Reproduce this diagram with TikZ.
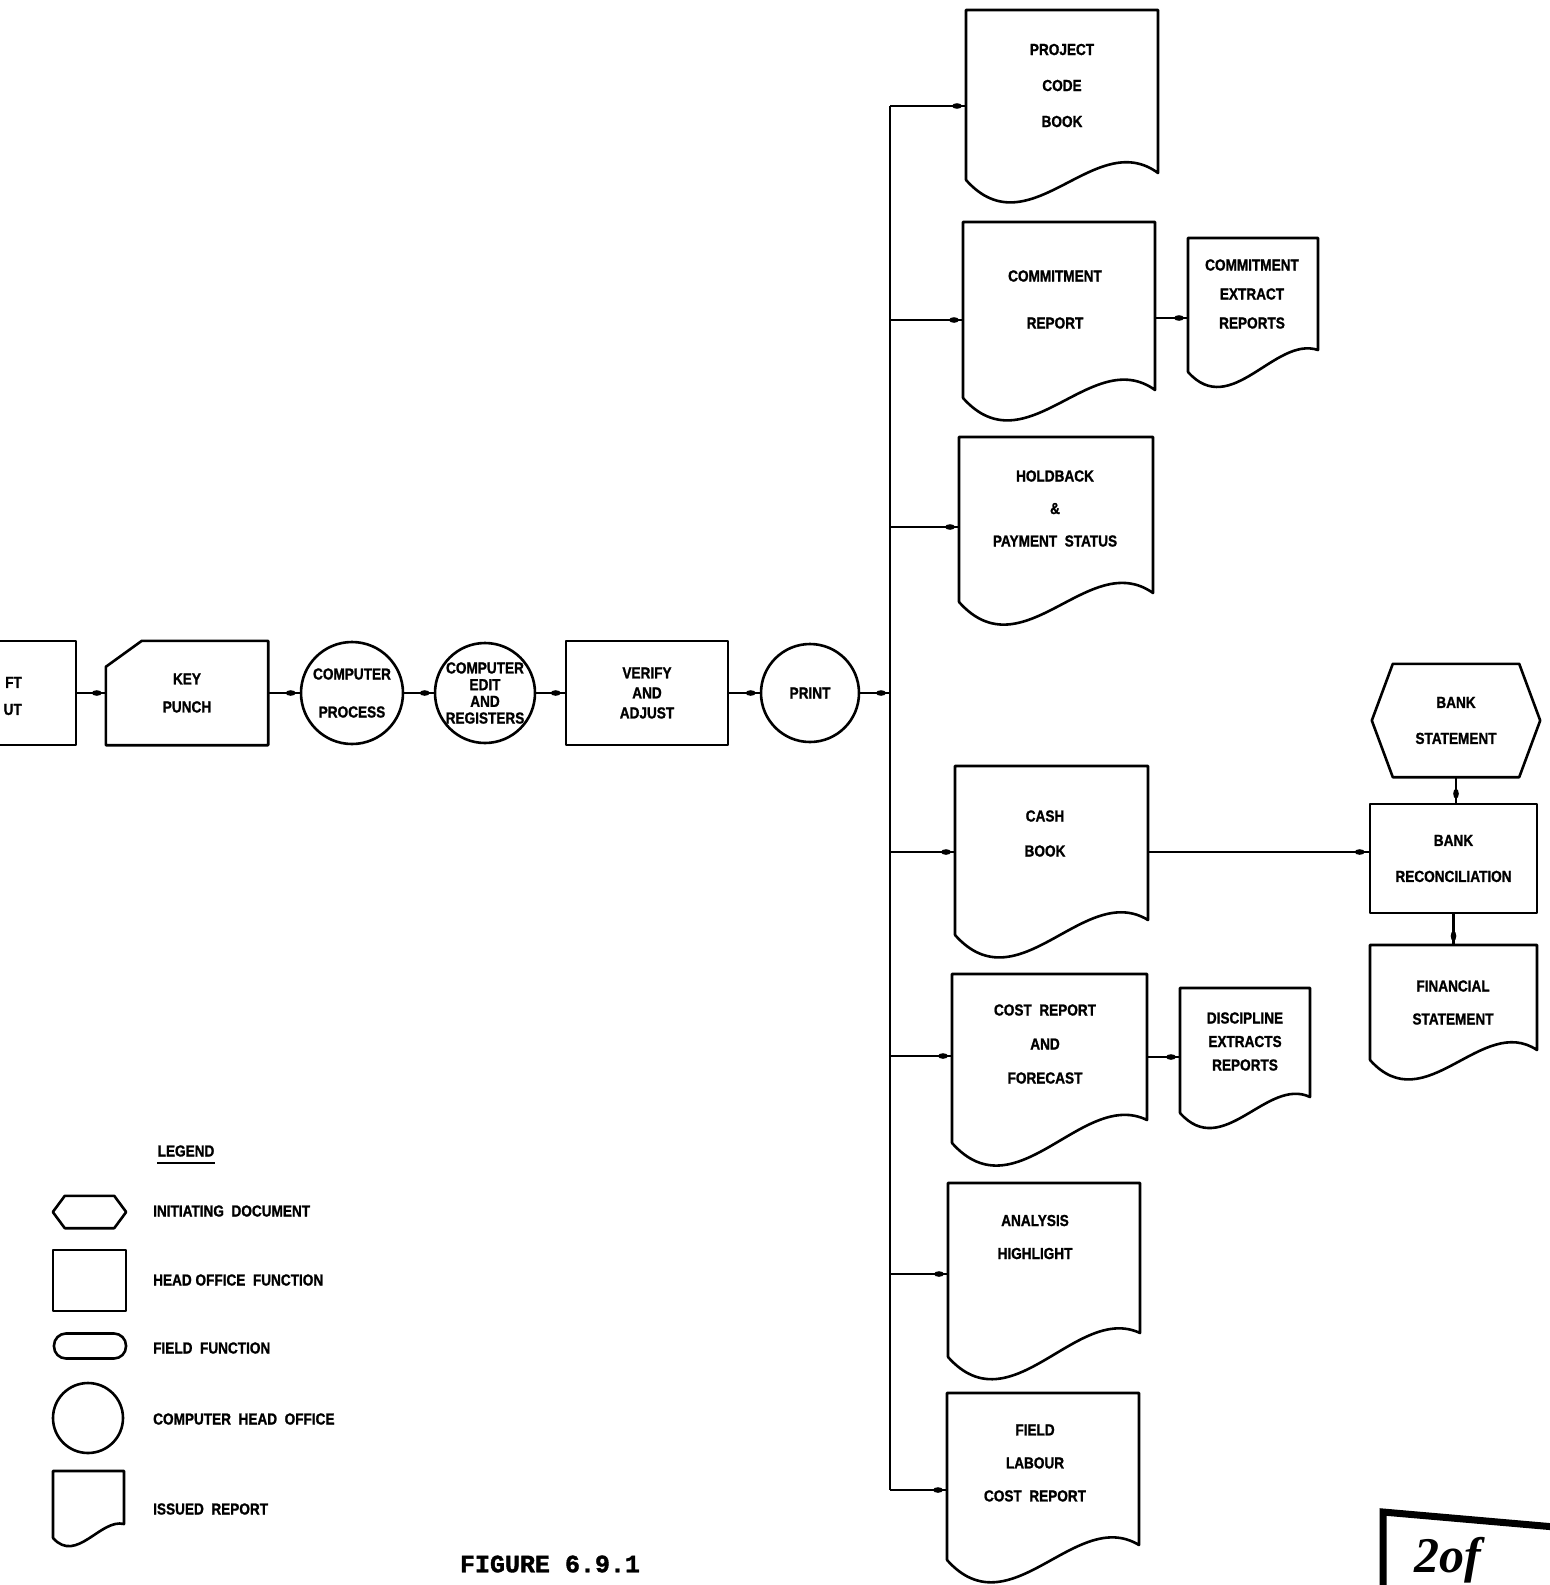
\documentclass[tikz,border=0pt]{standalone}
\usepackage{fontspec}
\setmainfont{Liberation Sans}
\newfontfamily\labfont{Liberation Sans}[FakeStretch=0.85,FakeBold=1.2]
\newfontfamily\capfont{Liberation Mono}[FakeBold=1.5]
\newfontfamily\handfont{Liberation Serif}
\usetikzlibrary{calc,decorations.markings}
\newcommand\docshape[6]{%
 \node[inner sep=0pt,outer sep=0pt,minimum width={(#4-#2)*1pt},minimum height={(#5-#3)*1pt}] (#1) at ({(#2+#4)/2},{(#3+#5)/2}) {};
 \draw[shp] (#2,#5) -- (#2,#3) -- (#4,#3) -- (#4,{#5-#6}) .. controls ({#2+0.67*(#4-#2)},{#5-0.28*(#4-#2)}) and ({#2+0.33*(#4-#2)},{#5+0.37*(#4-#2)}) .. (#2,#5);
}
\begin{document}
\begin{tikzpicture}[x=1pt,y=-1pt,
 shp/.style={draw,line width=2.6pt,line join=round,line cap=round},
 txt/.style={font=\labfont\bfseries\fontsize{16}{#1}\selectfont,align=center,inner sep=0pt},
 txt/.default=20,
 conn/.style={line width=2.2pt,decoration={markings,mark=at position 1 with {\fill (-9pt,0) ellipse [x radius=5pt, y radius=2.8pt];}},postaction={decorate}}]
\useasboundingbox (0,0) rectangle (1550,1585);
\clip (0,0) rectangle (1550,1585);

% ---------- main chain ----------
\node[shp,minimum width=116pt,minimum height=104pt] (lb) at (18,693) {};
\node[txt=27,align=right,anchor=east] (lbt) at (22,696) {FT\\UT};
\node[txt=28,minimum width=162pt,minimum height=104pt] (kp) at (187,693) {KEY\\PUNCH};
\draw[shp] ([yshift=-26pt]kp.north west) -- ([xshift=36pt]kp.north west) -- (kp.north east) -- (kp.south east) -- (kp.south west) -- cycle;
\node[shp,circle,minimum size=102pt,txt=38] (cp) at (352,693) {COMPUTER\\PROCESS};
\node[shp,circle,minimum size=100pt,txt=16.7] (ce) at (485,693) {COMPUTER\\EDIT\\AND\\REGISTERS};
\node[shp,minimum width=162pt,minimum height=104pt,txt=20] (va) at (647,693) {VERIFY\\AND\\ADJUST};
\node[shp,circle,minimum size=98pt,txt] (pr) at (810,693) {PRINT};

\draw[conn] (lb.east) -- (kp.west);
\draw[conn] (kp.east) -- (cp.west);
\draw[conn] (cp.east) -- (ce.west);
\draw[conn] (ce.east) -- (va.west);
\draw[conn] (va.east) -- (pr.west);

% ---------- bus ----------
\coordinate (b1) at (890,106);
\coordinate (b2) at (890,320);
\coordinate (b3) at (890,527);
\coordinate (bp) at (890,693);
\coordinate (b5) at (890,852);
\coordinate (b6) at (890,1056);
\coordinate (b7) at (890,1274);
\coordinate (b8) at (890,1490);
\draw[line width=2.4pt] (b1) -- (b8);
\draw[conn] (pr.east) -- (bp);

% ---------- documents ----------
\docshape{pcb}{966}{10}{1158}{180}{7}
\node[txt=36] (pcbt) at (1062,85.5) {PROJECT\\CODE\\BOOK};
\docshape{cr}{963}{222}{1155}{398}{8}
\node[txt=47] (crt) at (1055,299.5) {COMMITMENT\\REPORT};
\docshape{cer}{1188}{238}{1318}{372}{22}
\node[txt=29] (cert) at (1252,294) {COMMITMENT\\EXTRACT\\REPORTS};
\docshape{hb}{959}{437}{1153}{602}{9}
\node[txt=32.5] (hbt) at (1055,508.5) {HOLDBACK\\\&\\PAYMENT\ \ STATUS};
\docshape{cb}{955}{766}{1148}{935}{15}
\node[txt=35] (cbt) at (1045,833.5) {CASH\\BOOK};
\docshape{crf}{952}{974}{1147}{1143}{23}
\node[txt=34] (crft) at (1045,1044) {COST\ \ REPORT\\AND\\FORECAST};
\docshape{der}{1180}{988}{1310}{1113}{16}
\node[txt=23.5] (dert) at (1245,1041.5) {DISCIPLINE\\EXTRACTS\\REPORTS};
\docshape{ah}{948}{1183}{1140}{1357}{24}
\node[txt=33] (aht) at (1035,1237) {ANALYSIS\\HIGHLIGHT};
\docshape{flc}{947}{1393}{1139}{1560}{15}
\node[txt=33] (flct) at (1035,1463) {FIELD\\LABOUR\\COST\ \ REPORT};

\draw[conn] (b1) -- (b1 -| pcb.west);
\draw[conn] (b2) -- (b2 -| cr.west);
\draw[conn] (b3) -- (b3 -| hb.west);
\draw[conn] (b5) -- (b5 -| cb.west);
\draw[conn] (b6) -- (b6 -| crf.west);
\draw[conn] (b7) -- (b7 -| ah.west);
\draw[conn] (b8) -- (b8 -| flc.west);

\coordinate (k1) at (1155,318);
\draw[conn] (k1) -- (k1 -| cer.west);
\coordinate (k2) at (1147,1057);
\draw[conn] (k2) -- (k2 -| der.west);

% ---------- bank column ----------
\node[txt=36,minimum width=168pt,minimum height=113pt] (bs) at (1456,720.5) {BANK\\STATEMENT};
\draw[shp] (bs.west) -- ([xshift=21pt]bs.north west) -- ([xshift=-21pt]bs.north east) -- (bs.east) -- ([xshift=-21pt]bs.south east) -- ([xshift=21pt]bs.south west) -- cycle;
\node[shp,minimum width=167pt,minimum height=109pt,txt=36] (br) at (1453.5,858.5) {BANK\\RECONCILIATION};
\docshape{fin}{1370}{945}{1537}{1060}{10}
\node[txt=33] (fint) at (1453,1002.5) {FINANCIAL\\STATEMENT};
\draw[conn] (bs.south) -- (bs.south |- br.north);
\draw[conn] (br.south) -- (br.south |- fin.north);
\draw[conn] (b5 -| cb.east) -- (b5 -| br.west);

% ---------- legend ----------
\node[txt] (lgt) at (186,1151) {LEGEND};
\draw[line width=2pt] ([yshift=-6pt]lgt.south west) -- ([yshift=-6pt]lgt.south east);
\node[minimum width=73pt,minimum height=32pt,inner sep=0pt] (lgh) at (89.5,1212) {};
\draw[shp] (lgh.west) -- ([xshift=12pt]lgh.north west) -- ([xshift=-12pt]lgh.north east) -- (lgh.east) -- ([xshift=-12pt]lgh.south east) -- ([xshift=12pt]lgh.south west) -- cycle;
\node[txt,anchor=west] (lg1) at (153,1211) {INITIATING\ \ DOCUMENT};
\node[shp,minimum width=73pt,minimum height=61pt,inner sep=0pt] (lgr) at (89.5,1280.5) {};
\node[txt,anchor=west] (lg2) at (153,1280) {HEAD\ OFFICE\ \ FUNCTION};
\node[shp,rounded corners=12pt,minimum width=72pt,minimum height=25pt,inner sep=0pt] (lgs) at (90,1346) {};
\node[txt,anchor=west] (lg3) at (153,1348) {FIELD\ \ FUNCTION};
\node[shp,circle,minimum size=70pt,inner sep=0pt] (lgc) at (88,1418) {};
\node[txt,anchor=west] (lg4) at (153,1419) {COMPUTER\ \ HEAD\ \ OFFICE};
\docshape{lgd}{53}{1471}{124}{1538}{14}
\node[txt,anchor=west] (lg5) at (153,1509) {ISSUED\ \ REPORT};

% ---------- caption and stamp ----------
\node[font=\capfont\bfseries\fontsize{25}{25}\selectfont,inner sep=0pt] (fig) at (550,1564) {FIGURE 6.9.1};
\draw[line width=7pt] (1383,1590) -- (1383,1512) -- (1555,1527);
\node[font=\handfont\itshape\bfseries\fontsize{50}{50}\selectfont,anchor=base west,inner sep=0pt] (stamp) at (1414,1572) {2of};
\end{tikzpicture}
\end{document}
